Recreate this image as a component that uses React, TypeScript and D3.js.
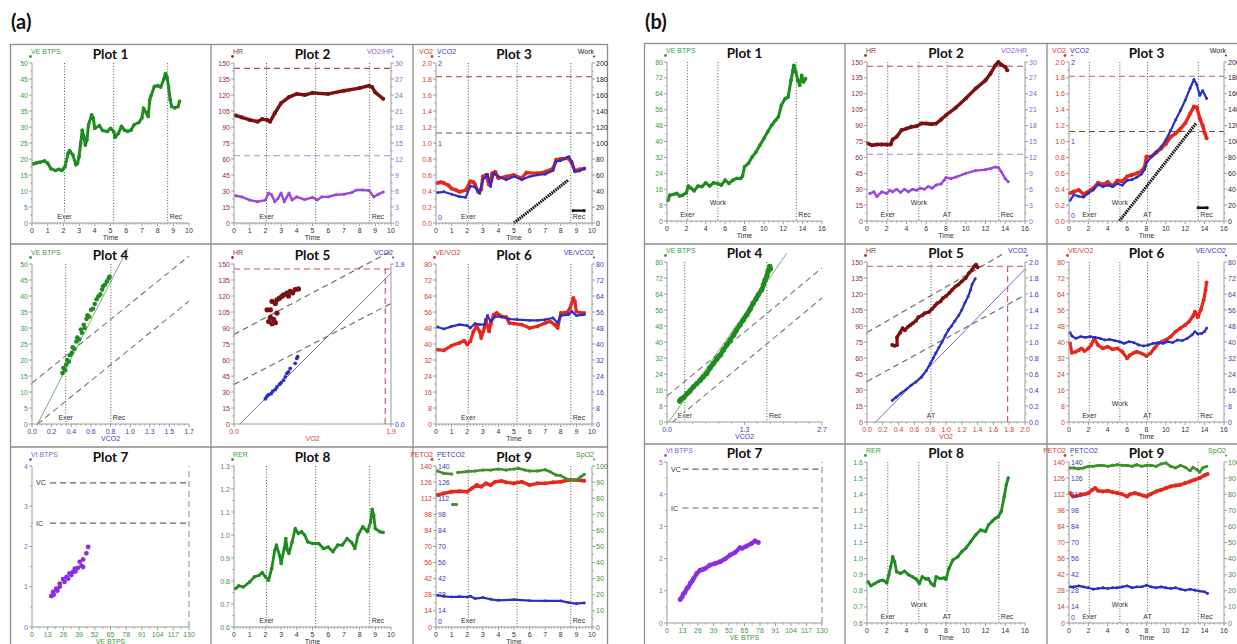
import React from "react";
import * as d3 from "d3";

type P = [number, number];
type Side = "L" | "R";

// ================= DATA : panel (a) =================
const A_EXER = 2.07, A_MID = 5.2, A_REC = 8.64;
const aVE: P[] = [[0.1,18.5],[0.3,18.8],[0.5,19],[0.8,19.4],[1.0,18.7],[1.2,17],[1.5,16.4],[1.7,16.8],[1.9,16.4],[2.1,17.6],[2.3,21.8],[2.4,22.6],[2.6,21.3],[2.8,18.2],[2.9,18.7],[3.0,20.8],[3.1,25],[3.2,29],[3.3,27],[3.4,24.4],[3.5,26],[3.6,30.7],[3.8,33.8],[3.9,32.8],[4.0,29.6],[4.3,30.4],[4.5,28.9],[4.8,28.6],[5.0,29.6],[5.2,28.6],[5.3,26.8],[5.5,28],[5.7,30.2],[5.9,29],[6.1,28.6],[6.3,29],[6.5,30.7],[6.8,31.4],[7.0,32.8],[7.1,35.9],[7.3,34.3],[7.4,33.3],[7.5,38.5],[7.6,40],[7.8,42.7],[8.0,42.9],[8.2,42.5],[8.4,45],[8.5,46.7],[8.6,45.6],[8.7,42.5],[8.8,38.5],[8.9,36.4],[9.1,36],[9.3,36.4],[9.4,38]];
const aHR: P[] = [[0.1,100.8],[0.5,99],[1,96.7],[1.5,95],[1.8,97.4],[2.1,96.7],[2.3,95],[2.6,103],[3,112.4],[3.5,118],[4,121],[4.5,120],[5,122],[6,121],[7,124],[8,126.5],[8.6,128.7],[8.8,127.4],[9,122.4],[9.5,116.5]];
const aVOHR: P[] = [[0.1,5.1],[0.5,4.9],[1,4.3],[1.5,4.0],[2,4.3],[2.2,5.6],[2.4,5.3],[2.6,4.0],[2.8,4.6],[3.0,5.6],[3.2,4.0],[3.5,5.6],[3.7,4.3],[4,4.9],[4.5,4.4],[5,4.8],[5.3,4.3],[5.6,4.9],[6,4.9],[6.5,5.3],[7,5.4],[7.5,5.7],[7.8,6.2],[8.2,6.2],[8.6,6.1],[8.9,4.9],[9.2,5.4],[9.5,5.8]];
const aVO2: P[] = [[0.1,0.5],[0.3,0.51],[0.5,0.5],[0.8,0.47],[1,0.43],[1.3,0.41],[1.5,0.39],[1.9,0.41],[2.2,0.52],[2.4,0.51],[2.5,0.48],[2.7,0.39],[2.9,0.42],[3.0,0.58],[3.2,0.6],[3.4,0.48],[3.6,0.62],[3.8,0.64],[4.0,0.56],[4.5,0.58],[5.0,0.6],[5.5,0.56],[5.8,0.63],[6.5,0.62],[7.0,0.64],[7.5,0.68],[7.7,0.79],[8.0,0.8],[8.5,0.81],[8.7,0.75],[8.9,0.655],[9.2,0.67],[9.5,0.68]];
const aVCO2: P[] = [[0.1,0.38],[0.5,0.39],[1,0.36],[1.5,0.33],[1.9,0.32],[2.2,0.46],[2.5,0.45],[2.8,0.37],[3.0,0.54],[3.3,0.61],[3.5,0.455],[3.7,0.62],[4,0.58],[4.5,0.54],[5.0,0.58],[5.5,0.54],[6,0.58],[6.5,0.6],[7,0.61],[7.5,0.655],[7.7,0.77],[8.0,0.78],[8.5,0.83],[8.7,0.77],[8.9,0.64],[9.2,0.65],[9.5,0.68]];
const aWork: P[] = [[5.0,0],[8.5,54]];
const aWorkRec: P[] = [[8.8,15.5],[9.5,15.5]];
const aP4: P[] = [[0.33,15.9],[0.34,17.5],[0.36,16.8],[0.37,18.5],[0.38,20],[0.40,19.5],[0.41,21.5],[0.43,22.2],[0.44,24],[0.46,23.5],[0.48,25.8],[0.49,27],[0.51,26.5],[0.53,29.5],[0.54,28.5],[0.56,31],[0.57,30],[0.59,32.8],[0.6,34],[0.62,33.5],[0.64,35.7],[0.66,36],[0.68,37.5],[0.7,39],[0.72,39.9],[0.74,40.5],[0.76,42],[0.77,43],[0.79,43.5],[0.81,44.5],[0.83,45.5],[0.84,46.1]];
const aP5HR: P[] = [[0.4,107],[0.42,96],[0.44,100],[0.46,94],[0.48,98],[0.5,95],[0.52,104],[0.44,107],[0.46,115],[0.5,113],[0.52,116.5],[0.55,118],[0.58,119.7],[0.6,121],[0.64,122.8],[0.66,120],[0.68,124.4],[0.71,123],[0.74,126],[0.78,126.6]];
const aP5VCO2: P[] = [[0.38,0.3],[0.4,0.33],[0.42,0.35],[0.45,0.36],[0.47,0.39],[0.5,0.41],[0.52,0.44],[0.55,0.47],[0.57,0.49],[0.6,0.52],[0.62,0.56],[0.64,0.6],[0.66,0.62],[0.68,0.66],[0.74,0.72],[0.76,0.78],[0.77,0.8]];
const aVEVO2: P[] = [[0.1,37.2],[0.5,36.8],[1,39.2],[1.5,40.5],[1.8,41.7],[2.0,39.7],[2.2,41.3],[2.4,46.3],[2.6,48.8],[2.8,46.3],[2.9,43],[3.1,48],[3.2,52.2],[3.4,46.3],[3.5,49.7],[3.7,54.7],[3.9,55.5],[4.2,53.8],[4.5,53.5],[4.7,50.5],[5,50.2],[5.5,49.7],[6,48],[6.5,48.8],[7,50.5],[7.3,51.3],[7.6,49.7],[7.8,48],[8.0,55.5],[8.4,55.8],[8.6,58],[8.8,63],[8.9,61.3],[9.0,56.3],[9.3,55.5],[9.5,55.5]];
const aVEVCO2: P[] = [[0.1,48.5],[0.5,47.5],[1,48.8],[1.5,49.7],[2,49.2],[2.2,48],[2.5,50.2],[2.8,49.7],[3.1,49.7],[3.3,54.2],[3.5,51.3],[3.8,53.8],[4.2,53.5],[4.7,52.5],[5.2,52.2],[6,51.8],[6.5,51.8],[7,52.2],[7.5,53],[7.8,50.5],[8.0,54.2],[8.5,54.7],[8.7,56.3],[9,54.2],[9.5,54.7]];
const aVt: P[] = [[16,0.77],[17.4,0.87],[18,0.8],[20,0.95],[21,0.9],[23,1.08],[23,1.0],[25.7,1.19],[27,1.12],[28.5,1.24],[30,1.2],[31,1.33],[32.6,1.29],[34,1.37],[35.4,1.45],[36,1.38],[38,1.47],[39.5,1.62],[41,1.52],[42.3,1.68],[42.3,1.49],[45,1.83],[46.5,1.99]];
const aRER: P[] = [[0.1,0.767],[0.3,0.779],[0.6,0.774],[1,0.796],[1.3,0.818],[1.6,0.825],[1.8,0.837],[2.0,0.818],[2.2,0.803],[2.4,0.854],[2.6,0.934],[2.7,0.956],[2.9,0.912],[3.0,0.876],[3.2,0.941],[3.3,0.985],[3.4,0.934],[3.5,0.92],[3.7,0.97],[3.9,1.028],[4.1,1.007],[4.3,1.014],[4.5,1.0],[4.7,0.97],[5.0,0.963],[5.4,0.963],[5.7,0.941],[6,0.948],[6.3,0.927],[6.6,0.956],[6.9,0.956],[7.2,0.985],[7.5,0.967],[7.7,0.941],[7.9,1.0],[8.2,1.036],[8.5,1.014],[8.7,1.057],[8.8,1.112],[8.9,1.086],[9.0,1.028],[9.3,1.014],[9.5,1.011]];
const aPETO2: P[] = [[0.1,114.7],[0.5,116.2],[1,117.6],[1.5,118],[2,117.6],[2.3,120.5],[2.6,123.4],[2.9,122],[3.2,124.9],[3.5,123.4],[3.8,126.3],[4.2,127],[4.5,125.8],[5,124.9],[5.5,126.3],[6,123.4],[6.5,124.9],[7,124.9],[7.5,125.8],[8,126.3],[8.5,127.8],[9,127.8],[9.5,127.2]];
const aPETCO2: P[] = [[0.1,27.6],[0.5,26.7],[1,26.1],[1.5,26.4],[2,26.1],[2.2,26.7],[2.5,24.7],[3,25.6],[3.5,24.1],[4,23.2],[5,23.8],[6,22.9],[7,22.7],[8,22.7],[8.5,21.2],[9,20.3],[9.5,20.9]];
const aSpO2Pre: P[] = [[0.1,96.9],[0.5,95.4],[1.0,95.0]];
const aSpO2Dip: P[] = [[1.08,76.1],[1.3,76.1]];
const aSpO2: P[] = [[1.4,96],[2,96.5],[2.5,96.9],[3,97.5],[3.5,97.5],[4,98.1],[4.5,97.5],[5,98.1],[5.3,98.5],[5.7,97.5],[6,96.9],[6.5,96.9],[7,97.7],[7.3,96.5],[7.7,94.4],[8,94],[8.3,92.3],[8.6,91.3],[9,91.3],[9.3,93.4],[9.5,94.8]];

// ================= DATA : panel (b) =================
const B_EXER = 2.1, B_WORK = 5.25, B_AT = 8.1, B_REC = 13.35;
const bVE: P[] = [[0.1,10.5],[0.3,13],[0.7,13.4],[1,13.9],[1.3,12.6],[1.6,13],[2,14.2],[2.2,17.6],[2.5,16.4],[2.8,15.2],[3.2,17.6],[3.6,17.3],[4,19.2],[4.4,17.6],[4.8,19.2],[5.2,18.9],[5.6,18],[6,20.6],[6.4,18.9],[6.8,20.6],[7.2,21.4],[7.6,21.4],[7.8,22.6],[8.0,27.3],[8.4,29],[8.8,32.3],[9.2,34.8],[9.6,38.2],[10,41.5],[10.4,44.9],[10.8,48.2],[11.2,50.7],[11.5,52.4],[11.8,58.2],[12.2,61.6],[12.5,62.4],[12.8,70.8],[13.0,75.8],[13.1,78.3],[13.3,75],[13.5,70.8],[13.7,68.3],[13.9,73.3],[14.1,70],[14.3,71.6]];
const bHR: P[] = [[0.1,73.1],[0.5,71.5],[1,72.2],[1.5,72.2],[2,72.2],[2.4,72.2],[2.6,76.9],[3,79.4],[3.5,85.7],[4,87.2],[4.5,88.8],[5,89.4],[5.5,92],[6,92],[6.5,91.3],[7,92],[7.5,95.7],[8,99.8],[9,107],[10,115.5],[11,124.9],[12,132.7],[12.5,139],[13,146.9],[13.3,150],[13.6,147.5],[14,145.3],[14.2,142.2]];
const bVOHR: P[] = [[0.3,5.2],[0.7,5.5],[1,4.6],[1.5,5.5],[2,5.2],[2.3,5.8],[2.6,5.5],[3,6.0],[3.4,5.4],[3.8,6.0],[4.2,5.5],[4.6,6.0],[5,5.8],[5.4,6.2],[5.8,6.0],[6.2,6.5],[6.6,6.2],[7,6.8],[7.5,7.0],[7.8,7.7],[8,8.2],[8.5,8.0],[9,8.3],[10,9.0],[11,9.5],[12,9.7],[12.5,9.9],[13,10.2],[13.3,10.1],[13.6,9.3],[14,8.0],[14.3,7.4]];
const bVO2: P[] = [[0.1,0.35],[0.5,0.37],[1,0.39],[1.5,0.34],[2,0.37],[2.5,0.41],[3,0.48],[3.5,0.46],[4,0.49],[4.5,0.44],[5,0.51],[5.5,0.5],[6,0.56],[6.5,0.58],[7,0.6],[7.5,0.63],[7.8,0.68],[8.0,0.81],[8.5,0.81],[9,0.86],[9.5,0.91],[10,0.97],[10.5,1.06],[11,1.1],[11.5,1.16],[12,1.23],[12.5,1.35],[12.9,1.44],[13.2,1.43],[13.5,1.29],[13.8,1.2],[14,1.11],[14.2,1.04]];
const bVCO2: P[] = [[0.1,0.26],[0.5,0.33],[1,0.31],[1.5,0.3],[2,0.35],[2.5,0.39],[3,0.46],[3.5,0.43],[4,0.45],[4.5,0.43],[5,0.47],[5.5,0.45],[6,0.51],[6.5,0.52],[7,0.55],[7.5,0.59],[7.8,0.65],[8,0.73],[8.5,0.81],[9,0.87],[9.5,0.93],[10,1.02],[10.5,1.14],[11,1.27],[11.5,1.39],[12,1.52],[12.5,1.67],[12.9,1.78],[13.2,1.71],[13.5,1.58],[13.8,1.64],[14.2,1.54]];
const bWork: P[] = [[5.2,0],[13.1,122.6]];
const bWorkRec: P[] = [[13.33,16.7],[14.26,16.7]];
const bP4: P[] = [[0.22,10.5],[0.25,11.5],[0.3,12.5],[0.35,14.2],[0.4,15.5],[0.46,17.6],[0.52,19.2],[0.58,20.9],[0.63,22.5],[0.69,24.3],[0.75,27],[0.81,29.3],[0.87,31.5],[0.93,33.5],[0.98,36],[1.04,38.5],[1.1,41],[1.16,43.5],[1.21,46],[1.27,48.5],[1.33,51],[1.39,53.6],[1.45,56.5],[1.5,59.4],[1.55,61.5],[1.59,63.6],[1.65,66.1],[1.68,68.5],[1.71,71.1],[1.74,73],[1.76,75.3],[1.79,77.8],[1.8,76.5]];
const bP5HR: P[] = [[0.32,72.2],[0.35,71.5],[0.38,72.2],[0.38,79.4],[0.42,84],[0.45,87.9],[0.48,86],[0.52,89.4],[0.55,91],[0.58,92.6],[0.62,95],[0.65,98.2],[0.7,100],[0.73,102],[0.78,103],[0.82,105.7],[0.86,109],[0.89,111.4],[0.93,113],[0.96,116],[1.0,118],[1.04,120.8],[1.08,124],[1.12,127],[1.16,129],[1.2,131.8],[1.25,135],[1.29,139.6],[1.33,142.8],[1.36,146],[1.38,147.5],[1.4,145]];
const bP5VCO2: P[] = [[0.32,0.27],[0.37,0.31],[0.43,0.36],[0.5,0.41],[0.56,0.46],[0.62,0.5],[0.69,0.56],[0.75,0.64],[0.8,0.73],[0.84,0.8],[0.87,0.86],[0.91,0.93],[0.95,1.0],[0.99,1.08],[1.03,1.15],[1.07,1.2],[1.11,1.26],[1.16,1.33],[1.2,1.4],[1.24,1.49],[1.28,1.57],[1.31,1.65],[1.33,1.72],[1.37,1.79]];
const bVEVO2: P[] = [[0.1,39.3],[0.3,34.6],[0.7,35.1],[1,35.9],[1.3,36.8],[1.6,35.5],[2,36.8],[2.3,38.5],[2.6,41.8],[3,38.5],[3.5,36.8],[4,37.7],[4.5,36.3],[5,36.8],[5.5,35.1],[6,31.8],[6.3,33.5],[6.7,34.6],[7,35.1],[7.5,34.3],[8,33],[8.4,34.3],[8.8,36.8],[9.2,39.3],[9.6,40.2],[10,41],[10.5,42.7],[11,45.2],[11.5,46.9],[12,48.5],[12.4,50.2],[12.8,53],[13,55.2],[13.3,52.4],[13.6,56],[13.9,61],[14.1,66.1],[14.2,69.8]];
const bVEVCO2: P[] = [[0.1,44.7],[0.3,43],[0.7,41.8],[1.2,42.7],[1.7,42.3],[2.2,42.7],[2.7,42.3],[3.2,41.8],[3.7,41],[4.2,41.3],[4.7,40.7],[5.2,40.2],[5.7,39.3],[6.2,40.2],[6.7,39.7],[7.2,38.5],[7.7,38],[8.2,38.5],[8.7,39.3],[9.2,39.7],[9.7,39.3],[10.2,40.2],[10.7,39.7],[11.2,41],[11.7,40.7],[12.2,41.8],[12.7,43.5],[13.0,45.2],[13.3,44],[13.7,44.3],[14.0,45.2],[14.2,46.9]];
const bVt: P[] = [[11.1,0.73],[12.5,0.8],[13.9,0.91],[15,0.95],[16.7,1.07],[18,1.12],[19.5,1.23],[21,1.3],[22.3,1.38],[25,1.54],[27.8,1.64],[30,1.66],[32,1.69],[36.2,1.8],[40.4,1.85],[44.5,1.9],[48.7,1.99],[52.9,2.11],[57.1,2.19],[61.2,2.34],[63,2.32],[66.8,2.39],[71,2.47],[73.8,2.55],[76.6,2.5]];
const bRER: P[] = [[0.1,0.856],[0.4,0.831],[0.8,0.845],[1.2,0.86],[1.6,0.866],[2,0.849],[2.2,0.897],[2.4,0.949],[2.6,1.012],[2.8,0.98],[3.0,0.918],[3.4,0.908],[3.8,0.922],[4.2,0.9],[4.6,0.887],[5,0.872],[5.3,0.845],[5.6,0.887],[6,0.872],[6.2,0.876],[6.5,0.845],[6.8,0.831],[7.0,0.887],[7.4,0.876],[7.8,0.88],[8.0,0.872],[8.3,0.939],[8.7,0.991],[9.2,1.012],[9.6,1.043],[10,1.064],[10.5,1.105],[11,1.147],[11.5,1.178],[12,1.168],[12.3,1.209],[12.7,1.234],[13,1.25],[13.3,1.261],[13.6,1.292],[13.9,1.386],[14.1,1.458],[14.3,1.5]];
const bPETO2: P[] = [[0.1,112.9],[0.4,110],[0.8,110.6],[1.2,111.5],[1.6,112],[2,112.9],[2.4,115.8],[2.7,117.3],[3,115],[3.5,114.4],[4,115],[4.5,113.8],[5,112.9],[5.5,112],[6,110],[6.3,112],[6.8,112.9],[7.2,112],[7.6,110.9],[8,110],[8.4,112],[9,114.4],[9.5,115.8],[10,117.3],[10.5,118.8],[11,119.6],[11.5,120.2],[12,121.7],[12.5,123.1],[13,124.6],[13.5,126],[14,128.4],[14.3,129.5]];
const bPETCO2: P[] = [[0.1,31.4],[0.5,31.4],[1,32.3],[1.5,31.4],[2,30.6],[2.5,29.4],[3,30],[3.5,30.6],[4,30],[4.5,30.6],[5,30.6],[5.5,31.4],[6,32.3],[6.5,30.6],[7,31.4],[7.5,31.4],[8,32.9],[8.5,31.4],[9,30.6],[9.5,31.4],[10,30.6],[10.5,30],[11,30.6],[11.5,29.4],[12,28.5],[12.5,29.4],[13,28.5],[13.5,27.7],[14,27.1],[14.3,25.6]];
const bSpO2: P[] = [[0.1,96.3],[0.5,96.3],[1,95.8],[1.5,96.3],[2,97.3],[2.5,97.3],[3,97.9],[3.5,97.9],[4,97.3],[4.5,97.9],[5,98.3],[5.5,97.9],[6,97.9],[6.5,97.3],[7,98.3],[7.5,97.3],[8,97.9],[8.5,97.9],[9,97.3],[9.5,98.8],[10,99.4],[10.5,97.3],[11,96.3],[11.5,97.9],[12,96.7],[12.5,94.6],[12.8,96.7],[13.2,95.2],[13.5,93.8],[13.8,96.3],[14.2,97.3]];

// ================= TICKS =================
const T_A = d3.range(0, 11, 1);
const T_B = d3.range(0, 17, 2);
const T50 = d3.range(0, 51, 5);
const T80 = d3.range(0, 81, 8);
const T150 = d3.range(0, 151, 15);
const T30 = d3.range(0, 31, 3);
const T2 = d3.range(0, 11).map(i => i * 0.2);
const T200 = d3.range(0, 201, 20);
const T140 = d3.range(0, 141, 14);
const T100 = d3.range(0, 101, 10);
const T130 = d3.range(0, 131, 13);
const A4X = d3.range(0, 9).map(i => (i * 1.7) / 8);
const A4XL = ["0.0", "0.2", "0.4", "0.6", "0.8", "1.0", "1.3", "1.5", "1.7"];
const B4X = [0, 1.35, 2.7];
const B4XL = ["0.0", "1.3", "2.7"];
const RER_A = d3.range(0, 8).map(i => 0.6 + i * 0.1);
const RER_B = d3.range(0, 11).map(i => 0.6 + i * 0.1);

// ================= COLOURS =================
const GREEN = "#1f8c1f", GREEN_L = "#3d9a3d";
const HRC = "#7a1010", HRC_L = "#8e3232";
const PURP = "#9c46e0", PURP_L = "#8f5fd0";
const RED = "#e8261c", RED_L = "#d33c32";
const BLUE = "#2b2fc4", BLUE_L = "#3b3bb0";
const VT = "#8b2ee2";
const SPO2 = "#3f8f2a";
const AXC = "#9a9a9a";
const FONT = "'Liberation Sans', Arial, sans-serif";

interface Ax { domain: [number, number]; ticks: number[]; labels?: string[]; color: string; dec?: number; minor?: number }
interface Ser { pts: P[]; ax?: Side; color: string; mode: "line" | "scatter" | "ramp"; w?: number; r?: number }
interface VL { x: number; label?: string; pos?: "c" | "r"; high?: boolean }
interface Ref { pts: P[]; ax?: Side; color: string; dash?: string; w?: number }
interface Name { t: string; c: string }
interface Note { x: number; y: number; t: string; ax?: Side }
interface Inner { v: number; t: string; dy?: number }
interface Spec {
  title: string; px: P; py: P; x: Ax; xTitle: string; xTitleColor: string;
  yL: Ax; yR?: Ax; inner?: { items: Inner[]; color: string };
  namesL: Name[]; namesR?: Name[]; series: Ser[]; vl?: VL[]; refs?: Ref[]; notes?: Note[];
}

function Plot({ s }: { s: Spec }) {
  const [x0, x1] = s.px, [yt, yb] = s.py;
  const xs = d3.scaleLinear().domain(s.x.domain).range([x0, x1]);
  const yl = d3.scaleLinear().domain(s.yL.domain).range([yb, yt]);
  const yr = s.yR ? d3.scaleLinear().domain(s.yR.domain).range([yb, yt]) : yl;
  const ys = (a?: Side) => (a === "R" ? yr : yl);
  const mk = (a?: Side) => d3.line<P>().x(d => xs(d[0])).y(d => ys(a)(d[1]));
  const out: React.ReactNode[] = [];
  let k = 0;
  const lab = (ax: Ax, v: number, i: number) =>
    ax.labels ? ax.labels[i] : ax.dec != null ? v.toFixed(ax.dec) : String(Math.round(v * 1000) / 1000);

  (s.refs || []).forEach(r =>
    out.push(<path key={k++} d={mk(r.ax)(r.pts) || ""} fill="none" stroke={r.color} strokeWidth={r.w ?? 1.1} strokeDasharray={r.dash} />)
  );
  (s.vl || []).forEach(v => {
    const X = xs(v.x);
    out.push(<line key={k++} x1={X} x2={X} y1={yt} y2={yb} stroke="#555" strokeWidth={1} strokeDasharray="1,1.8" />);
    if (v.label) {
      const Y = v.high ? yb - 16 : yb - 4;
      out.push(
        <text key={k++} x={v.pos === "r" ? X + 2 : X} y={Y} fontSize={7} fontFamily={FONT} fill="#333"
          textAnchor={v.pos === "r" ? "start" : "middle"} stroke="#fff" strokeWidth={2.2} paintOrder="stroke">{v.label}</text>
      );
    }
  });
  (s.notes || []).forEach(n =>
    out.push(<text key={k++} x={xs(n.x) + 4} y={ys(n.ax)(n.y) + 2.5} fontSize={7} fontFamily={FONT} fill="#333">{n.t}</text>)
  );
  s.series.forEach(se => {
    const sc = ys(se.ax);
    if (se.mode === "scatter") {
      se.pts.forEach(p => out.push(<circle key={k++} cx={xs(p[0])} cy={sc(p[1])} r={se.r ?? 2.3} fill={se.color} />));
    } else {
      const w = se.w ?? 3.2;
      out.push(
        <path key={k++} d={mk(se.ax)(se.pts) || ""} fill="none" stroke={se.color} strokeWidth={w}
          strokeLinejoin="round" strokeLinecap={se.mode === "ramp" ? "butt" : "round"}
          strokeDasharray={se.mode === "ramp" ? "1.6,0.8" : undefined} />
      );
      if (se.mode === "line")
        se.pts.forEach(p => out.push(<circle key={k++} cx={xs(p[0])} cy={sc(p[1])} r={w / 2 + 0.35} fill={se.color} />));
    }
  });

  // Y axes
  const yAxis = (ax: Ax, side: Side) => {
    const sc = side === "L" ? yl : yr;
    const X = side === "L" ? x0 : x1;
    const dir = side === "L" ? -1 : 1;
    out.push(<line key={k++} x1={X} x2={X} y1={yt} y2={yb} stroke={AXC} strokeWidth={1} />);
    ax.ticks.forEach((t, i) => {
      const Y = sc(t);
      out.push(<line key={k++} x1={X} x2={X + dir * 3} y1={Y} y2={Y} stroke={AXC} />);
      out.push(
        <text key={k++} x={X + dir * 4} y={Y + 2.5} fontSize={7} fontFamily={FONT} fill={ax.color}
          textAnchor={side === "L" ? "end" : "start"}>{lab(ax, t, i)}</text>
      );
      if (ax.ticks.length > 2 && i < ax.ticks.length - 1) {
        const m = sc((t + ax.ticks[i + 1]) / 2);
        out.push(<line key={k++} x1={X} x2={X + dir * 1.6} y1={m} y2={m} stroke={AXC} />);
      }
    });
  };
  yAxis(s.yL, "L");
  if (s.yR) yAxis(s.yR, "R");
  if (s.inner)
    s.inner.items.forEach(it =>
      out.push(<text key={k++} x={x0 + 2} y={yl(it.v) + 2.5 + (it.dy ?? 0)} fontSize={7} fontFamily={FONT} fill={s.inner!.color}>{it.t}</text>)
    );
  // X axis
  out.push(<line key={k++} x1={x0} x2={x1} y1={yb} y2={yb} stroke={AXC} strokeWidth={1} />);
  const xt = s.x.ticks;
  xt.forEach((t, i) => {
    const X = xs(t);
    out.push(<line key={k++} x1={X} x2={X} y1={yb} y2={yb + 3} stroke={AXC} />);
    out.push(<text key={k++} x={X} y={yb + 10} fontSize={7} fontFamily={FONT} fill={s.x.color} textAnchor="middle">{lab(s.x, t, i)}</text>);
    const nm = s.x.minor ?? 4;
    if (xt.length > 2 && i < xt.length - 1)
      for (let j = 1; j <= nm; j++) {
        const m = xs(t + ((xt[i + 1] - t) * j) / (nm + 1));
        out.push(<line key={k++} x1={m} x2={m} y1={yb} y2={yb + 1.6} stroke={AXC} />);
      }
  });
  out.push(<text key={k++} x={(x0 + x1) / 2} y={yb + 17} fontSize={7} fontFamily={FONT} fill={s.xTitleColor} textAnchor="middle">{s.xTitle}</text>);

  // names
  const ny = yt - 9.5;
  if (s.namesL.length === 1) {
    const n = s.namesL[0];
    out.push(<text key={k++} x={x0 - 1} y={ny} fontSize={7} fontFamily={FONT} fill={n.c}>{n.t}</text>);
    out.push(<circle key={k++} cx={x0 - 1.5} cy={ny + 3} r={1.4} fill={n.c} />);
  } else {
    const [a, b] = s.namesL;
    out.push(<text key={k++} x={x0 - 3} y={ny} fontSize={7} fontFamily={FONT} fill={a.c} textAnchor="end">{a.t}</text>);
    out.push(<circle key={k++} cx={x0 - 4} cy={ny + 3} r={1.4} fill={a.c} />);
    out.push(<text key={k++} x={x0 + 1} y={ny} fontSize={7} fontFamily={FONT} fill={b.c}>{b.t}</text>);
    out.push(<circle key={k++} cx={x0 + 3} cy={ny + 3} r={0.8} fill={b.c} />);
  }
  (s.namesR || []).forEach(n => {
    out.push(<text key={k++} x={x1 + 2} y={ny} fontSize={7} fontFamily={FONT} fill={n.c} textAnchor="end">{n.t}</text>);
    out.push(<circle key={k++} cx={x1 + 2} cy={ny + 3} r={0.9} fill={n.c} />);
  });
  out.push(
    <text key={k++} x={(x0 + x1) / 2} y={yt - 4} fontSize={13.5} fontWeight={700} fontFamily="Lato, 'Open Sans', sans-serif" fill="#111" textAnchor="middle">{s.title}</text>
  );
  return <g>{out}</g>;
}

const A_COLS: P[] = [[32, 189], [234, 391], [436, 592]];
const A_ROWS: P[] = [[63, 223], [264, 424], [466, 627]];
const B_COLS: P[] = [[667, 822], [867, 1025], [1069, 1224]];
const B_ROWS: P[] = [[62, 221], [262, 422], [462, 623]];

function buildPanel(isA: boolean): Spec[] {
  const C = isA ? A_COLS : B_COLS;
  const R = isA ? A_ROWS : B_ROWS;
  const tDom: [number, number] = isA ? [0, 10] : [0, 16];
  const tAx: Ax = { domain: tDom, ticks: isA ? T_A : T_B, color: "#333", minor: isA ? 4 : 3 };
  const tEnd = tDom[1];
  const vl: VL[] = isA
    ? [{ x: A_EXER, label: "Exer", pos: "c" }, { x: A_MID }, { x: A_REC, label: "Rec", pos: "r" }]
    : [{ x: B_EXER, label: "Exer", pos: "c" }, { x: B_WORK, label: "Work", pos: "c", high: true }, { x: B_AT, label: "AT", pos: "c" }, { x: B_REC, label: "Rec", pos: "r" }];
  const vl1: VL[] = isA ? vl : vl.filter(v => v.label !== "AT");
  const VEmax = isA ? 50 : 80;
  const veAx: Ax = { domain: [0, VEmax], ticks: isA ? T50 : T80, color: GREEN_L };
  const d = "6,4";
  const specs: Spec[] = [];
  // Plot 1
  specs.push({
    title: "Plot 1", px: C[0], py: R[0], x: tAx, xTitle: "Time", xTitleColor: "#333", yL: veAx,
    namesL: [{ t: "VE BTPS", c: GREEN_L }], series: [{ pts: isA ? aVE : bVE, color: GREEN, mode: "line", w: 3 }], vl: vl1,
  });
  // Plot 2
  specs.push({
    title: "Plot 2", px: C[1], py: R[0], x: tAx, xTitle: "Time", xTitleColor: "#333",
    yL: { domain: [0, 150], ticks: T150, color: HRC_L }, yR: { domain: [0, 30], ticks: T30, color: PURP_L },
    namesL: [{ t: "HR", c: HRC_L }], namesR: [{ t: "VO2/HR", c: PURP_L }],
    series: [{ pts: isA ? aHR : bHR, color: HRC, mode: "line", w: 3.4 }, { pts: isA ? aVOHR : bVOHR, ax: "R", color: PURP, mode: "line", w: 2.4 }],
    refs: [
      { pts: [[0, isA ? 145 : 146], [tEnd, isA ? 145 : 146]], color: "#b0485a", dash: d },
      { pts: [[0, 12.6], [tEnd, 12.6]], ax: "R", color: "#a58ad8", dash: d },
    ],
    vl,
  });
  // Plot 3
  specs.push({
    title: "Plot 3", px: C[2], py: R[0], x: tAx, xTitle: "Time", xTitleColor: "#333",
    yL: { domain: [0, 2], ticks: T2, color: RED_L, dec: 1 }, yR: { domain: [0, 200], ticks: T200, color: "#222" },
    inner: { items: [{ v: 2, t: "2" }, { v: 1, t: "1" }, { v: 0, t: "0", dy: -6 }], color: BLUE_L },
    namesL: [{ t: "VO2", c: RED_L }, { t: "VCO2", c: BLUE_L }], namesR: [{ t: "Work", c: "#222" }],
    series: [
      { pts: isA ? aVO2 : bVO2, color: RED, mode: "line", w: 3.4 },
      { pts: isA ? aVCO2 : bVCO2, color: BLUE, mode: "line", w: 2.2 },
      { pts: isA ? aWork : bWork, ax: "R", color: "#111", mode: "ramp", w: 3 },
      { pts: isA ? aWorkRec : bWorkRec, ax: "R", color: "#111", mode: "line", w: 2.4 },
    ],
    refs: [
      { pts: [[0, isA ? 1.83 : 1.82], [tEnd, isA ? 1.83 : 1.82]], color: "#c0606a", dash: d },
      { pts: [[0, 112.5], [tEnd, 112.5]], ax: "R", color: "#555", dash: d },
    ],
    vl,
  });
  // Plot 4
  specs.push({
    title: "Plot 4", px: C[0], py: R[1],
    x: isA ? { domain: [0, 1.7], ticks: A4X, labels: A4XL, color: BLUE_L, minor: 3 } : { domain: [0, 2.7], ticks: B4X, labels: B4XL, color: BLUE_L, minor: 5 },
    xTitle: "VCO2", xTitleColor: BLUE_L, yL: veAx, namesL: [{ t: "VE BTPS", c: GREEN_L }],
    series: isA ? [{ pts: aP4, color: GREEN, mode: "scatter", r: 2.3 }] : [{ pts: bP4, color: GREEN, mode: "line", w: 4.6 }],
    refs: isA
      ? [
          { pts: [[0.06, 0], [1.04, 55]], color: "#6aa86a", w: 0.9 },
          { pts: [[0, 12.8], [1.7, 52.5]], color: "#777", dash: d },
          { pts: [[0.06, 0], [1.7, 38.4]], color: "#777", dash: d },
        ]
      : [
          { pts: [[0.03, 0], [2.09, 84.5]], color: "#6aa86a", w: 0.9 },
          { pts: [[0, 13], [2.7, 77]], color: "#777", dash: d },
          { pts: [[0.1, 0], [2.7, 62]], color: "#777", dash: d },
        ],
    vl: isA ? [{ x: 0.365, label: "Exer", pos: "c" }, { x: 0.854, label: "Rec", pos: "r" }] : [{ x: 0.31, label: "Exer", pos: "c" }, { x: 1.74, label: "Rec", pos: "r" }],
  });
  // Plot 5
  const vmax = isA ? 1.9 : 2.0;
  specs.push({
    title: "Plot 5", px: C[1], py: R[1],
    x: isA ? { domain: [0, 1.9], ticks: [0, 1.9], color: RED_L, dec: 1 } : { domain: [0, 2], ticks: T2, color: RED_L, dec: 1, minor: 1 },
    xTitle: "VO2", xTitleColor: RED_L,
    yL: { domain: [0, 150], ticks: T150, color: HRC_L },
    yR: isA ? { domain: [0, 1.9], ticks: [0, 1.9], color: BLUE_L, dec: 1 } : { domain: [0, 2], ticks: T2, color: BLUE_L, dec: 1 },
    namesL: [{ t: "HR", c: HRC_L }], namesR: [{ t: "VCO2", c: BLUE_L }],
    series: isA
      ? [{ pts: aP5HR, color: HRC, mode: "scatter", r: 2.6 }, { pts: aP5VCO2, ax: "R", color: BLUE, mode: "scatter", r: 1.9 }]
      : [{ pts: bP5HR, color: HRC, mode: "line", w: 3.2 }, { pts: bP5VCO2, ax: "R", color: BLUE, mode: "line", w: 2.2 }],
    refs: isA
      ? [
          { pts: [[0, 145.3], [1.9, 145.3]], color: "#c45060", dash: d },
          { pts: [[1.83, 0], [1.83, 145.3]], color: "#c45060", dash: d },
          { pts: [[0.07, 0], [1.9, 1.79]], ax: "R", color: "#6f6fb5", w: 1 },
          { pts: [[0, 84], [1.9, 162]], color: "#666", dash: d },
          { pts: [[0, 37], [1.9, 113]], color: "#666", dash: d },
        ]
      : [
          { pts: [[0, 146], [2, 146]], color: "#c45060", dash: d },
          { pts: [[1.78, 0], [1.78, 146]], color: "#c45060", dash: d },
          { pts: [[0.11, 0], [2, 1.91]], ax: "R", color: "#6f6fb5", w: 1 },
          { pts: [[0, 84], [1.72, 157.5]], color: "#666", dash: d },
          { pts: [[0, 38], [2, 119]], color: "#666", dash: d },
        ],
    vl: isA ? [] : [{ x: 0.81, label: "AT", pos: "c" }],
  });
  void vmax;
  // Plot 6
  specs.push({
    title: "Plot 6", px: C[2], py: R[1], x: tAx, xTitle: "Time", xTitleColor: "#333",
    yL: { domain: [0, 80], ticks: T80, color: RED_L }, yR: { domain: [0, 80], ticks: T80, color: BLUE_L },
    namesL: [{ t: "VE/VO2", c: RED_L }], namesR: [{ t: "VE/VCO2", c: BLUE_L }],
    series: [{ pts: isA ? aVEVO2 : bVEVO2, color: RED, mode: "line", w: 3.2 }, { pts: isA ? aVEVCO2 : bVEVCO2, color: BLUE, mode: "line", w: 2.2 }],
    vl,
  });
  // Plot 7
  const vtMax = isA ? 4 : 5;
  const vc = isA ? 3.58 : 4.78, ic = isA ? 2.58 : 3.57;
  specs.push({
    title: "Plot 7", px: C[0], py: R[2], x: { domain: [0, 130], ticks: T130, color: GREEN_L, minor: 1 },
    xTitle: "VE BTPS", xTitleColor: GREEN_L,
    yL: { domain: [0, vtMax], ticks: d3.range(0, vtMax + 1), color: PURP_L },
    namesL: [{ t: "Vt BTPS", c: PURP_L }],
    series: isA ? [{ pts: aVt, color: VT, mode: "scatter", r: 2.4 }] : [{ pts: bVt, color: VT, mode: "line", w: 4.2 }],
    refs: [
      { pts: [[isA ? 15 : 13, vc], [130, vc]], color: "#666", dash: d },
      { pts: [[isA ? 15 : 13, ic], [130, ic]], color: "#666", dash: d },
      { pts: [[130, 0], [130, vtMax]], color: "#7aa27a", dash: d },
    ],
    notes: [{ x: 0, y: vc, t: "VC" }, { x: 0, y: ic, t: "IC" }],
  });
  // Plot 8
  specs.push({
    title: "Plot 8", px: C[1], py: R[2], x: tAx, xTitle: "Time", xTitleColor: "#333",
    yL: { domain: isA ? [0.6, 1.3] : [0.6, 1.6], ticks: isA ? RER_A : RER_B, color: GREEN_L, dec: 1 },
    namesL: [{ t: "RER", c: GREEN_L }],
    series: [{ pts: isA ? aRER : bRER, color: GREEN, mode: "line", w: 2.8 }],
    vl,
  });
  // Plot 9
  const innerItems: Inner[] = T140.filter(v => v > 0).map(v => ({ v, t: String(v) }));
  innerItems.push({ v: 0, t: "0", dy: -6 });
  specs.push({
    title: "Plot 9", px: C[2], py: R[2], x: tAx, xTitle: "Time", xTitleColor: "#333",
    yL: { domain: [0, 140], ticks: T140, color: RED_L }, yR: { domain: [0, 100], ticks: T100, color: SPO2 },
    inner: { items: innerItems, color: BLUE_L },
    namesL: [{ t: "PETO2", c: RED_L }, { t: "PETCO2", c: BLUE_L }], namesR: [{ t: "SpO2", c: SPO2 }],
    series: isA
      ? [
          { pts: aPETO2, color: RED, mode: "line", w: 3.4 },
          { pts: aPETCO2, color: BLUE, mode: "line", w: 2.2 },
          { pts: aSpO2Pre, ax: "R", color: SPO2, mode: "line", w: 2.6 },
          { pts: aSpO2Dip, ax: "R", color: SPO2, mode: "line", w: 2.6 },
          { pts: aSpO2, ax: "R", color: SPO2, mode: "line", w: 2.6 },
        ]
      : [
          { pts: bPETO2, color: RED, mode: "line", w: 3.4 },
          { pts: bPETCO2, color: BLUE, mode: "line", w: 2.2 },
          { pts: bSpO2, ax: "R", color: SPO2, mode: "line", w: 2.6 },
        ],
    vl,
  });
  return specs;
}

export default function App() {
  const A = buildPanel(true);
  const B = buildPanel(false);
  const bc = "#8c8c8c";
  return (
    <svg width={1237} height={644} style={{ position: "absolute", left: 0, top: 0, background: "#fff" }}>
      <rect x={0} y={0} width={1237} height={644} fill="#fff" />
      {/* panel (a) frame */}
      <rect x={10.5} y={44.5} width={597} height={620} fill="none" stroke={bc} strokeWidth={1.3} />
      <line x1={211} x2={211} y1={44} y2={644} stroke={bc} strokeWidth={1.3} />
      <line x1={413} x2={413} y1={44} y2={644} stroke={bc} strokeWidth={1.3} />
      <line x1={10} x2={607} y1={244} y2={244} stroke={bc} strokeWidth={1.3} />
      <line x1={10} x2={607} y1={447} y2={447} stroke={bc} strokeWidth={1.3} />
      {/* panel (b) frame */}
      <rect x={644.5} y={43.5} width={620} height={620} fill="none" stroke={bc} strokeWidth={1.3} />
      <line x1={845} x2={845} y1={43} y2={644} stroke={bc} strokeWidth={1.3} />
      <line x1={1047} x2={1047} y1={43} y2={644} stroke={bc} strokeWidth={1.3} />
      <line x1={644} x2={1237} y1={244} y2={244} stroke={bc} strokeWidth={1.3} />
      <line x1={644} x2={1237} y1={444} y2={444} stroke={bc} strokeWidth={1.3} />
      <text x={11} y={29} fontSize={20} fontWeight={700} fontFamily="Lato, 'Open Sans', sans-serif" fill="#111">(a)</text>
      <text x={645} y={29} fontSize={20} fontWeight={700} fontFamily="Lato, 'Open Sans', sans-serif" fill="#111">(b)</text>
      {A.map((s, i) => <Plot key={"a" + i} s={s} />)}
      {B.map((s, i) => <Plot key={"b" + i} s={s} />)}
    </svg>
  );
}
